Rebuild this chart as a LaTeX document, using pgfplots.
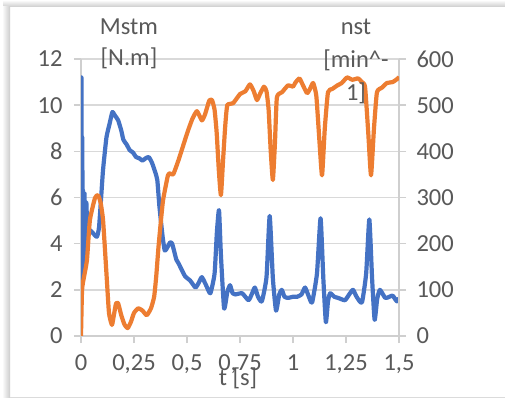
\documentclass[border=0pt]{standalone}
\usepackage{fontspec}
\setmainfont{Carlito}
\usepackage{pgfplots}
\pgfplotsset{compat=1.18}

\definecolor{serblue}{HTML}{4472C4}
\definecolor{serorange}{HTML}{ED7D31}
\definecolor{txtgray}{HTML}{595959}
\definecolor{gridgray}{HTML}{D9D9D9}
\definecolor{axgray}{HTML}{CFCFCF}

\pgfplotsset{
  xlstyle/.style={
    scale only axis, width=318bp, height=277bp,
    at={(81bp,64bp)}, anchor=south west,
    xmin=0, xmax=1.5,
    /pgf/number format/assume math mode=true,
    tick label style={font=\fontsize{24.5bp}{28bp}\selectfont, text=txtgray},
    axis line style={axgray, line width=1.5bp},
    major tick style={axgray, line width=1.5bp},
    major tick length=7bp, tick align=outside,
    minor tick num=0,
  },
}

\begin{document}
\begin{tikzpicture}
\useasboundingbox (0,0) rectangle (505bp,400bp);
\fill[white] (0,0) rectangle (505bp,400bp);
\shade[top color=white, bottom color=black!20] (3bp,393bp) rectangle (505bp,400bp);
\shade[left color=white, right color=black!20] (2bp,2bp) rectangle (10bp,393bp);
\draw[black!14, line width=1.5bp] (10bp,2.5bp) -- (505bp,2.5bp);

\begin{axis}[xlstyle,
  axis x line*=bottom, axis y line*=left,
  ymin=0, ymax=12, ytick={0,2,...,12},
  xtick={0,0.25,0.5,0.75,1,1.25,1.5},
  xticklabels={0,{0,25},{0,5},{0,75},1,{1,25},{1,5}},
  ymajorgrids, grid style={gridgray, line width=1.5bp},
  yticklabel style={xshift=-8bp},
  xticklabel style={yshift=-8bp},
]
\addplot[serblue, line width=4.2bp, line join=round, smooth, tension=0.3, no marks] coordinates {
(0,2.0) (0.002,11.2) (0.004,2.5) (0.006,8.6) (0.008,3.0) (0.010,6.3)
(0.013,3.3) (0.016,6.2) (0.02,4.0) (0.025,5.8) (0.03,4.5) (0.04,4.6)
(0.057,4.45) (0.075,4.3) (0.085,4.7) (0.095,6.0) (0.104,7.2) (0.12,8.6)
(0.135,9.2) (0.148,9.7) (0.16,9.55) (0.175,9.35) (0.19,8.9) (0.2,8.5)
(0.215,8.3) (0.23,8.05) (0.245,7.95) (0.26,7.75) (0.275,7.7) (0.29,7.6)
(0.305,7.7) (0.32,7.75) (0.335,7.5) (0.35,7.1) (0.36,6.75) (0.37,5.6)
(0.385,4.3) (0.395,3.7) (0.405,3.8) (0.42,4.05) (0.43,4.0) (0.45,3.3)
(0.46,3.15) (0.49,2.6) (0.515,2.4) (0.54,2.1) (0.555,2.3) (0.57,2.55)
(0.59,2.2) (0.61,1.85) (0.63,2.7) (0.641,4.5) (0.651,5.45) (0.66,3.5)
(0.675,1.2) (0.69,1.9) (0.703,2.2) (0.715,1.85) (0.727,1.8) (0.76,1.85)
(0.79,1.55) (0.805,1.8) (0.82,2.1) (0.835,1.7) (0.853,1.5) (0.875,2.55)
(0.89,5.2) (0.905,2.5) (0.92,1.1) (0.935,1.8) (0.947,2.0) (0.96,1.7)
(0.977,1.65) (1.0,1.7) (1.02,1.7) (1.04,1.8) (1.057,2.1) (1.075,1.7)
(1.09,1.45) (1.113,2.7) (1.13,5.1) (1.143,2.5) (1.155,0.6) (1.165,1.5)
(1.175,1.85) (1.195,1.7) (1.213,1.65) (1.245,1.55) (1.265,1.8) (1.283,2.0)
(1.3,1.7) (1.325,1.45) (1.345,2.7) (1.36,5.05) (1.373,2.5) (1.385,0.7)
(1.397,1.6) (1.41,2.0) (1.435,1.65) (1.455,1.7) (1.47,1.75) (1.49,1.5)
(1.5,1.65)
};
\end{axis}

\begin{axis}[xlstyle,
  axis x line=none, axis y line*=right,
  ymin=0, ymax=600, ytick={0,100,...,600},
  yticklabel style={xshift=7bp},
]
\addplot[serorange, line width=4.2bp, line join=round, smooth, tension=0.3, no marks] coordinates {
(0,0) (0.005,100) (0.015,130) (0.028,164) (0.042,251) (0.066,299)
(0.08,305) (0.092,290) (0.104,251) (0.12,136) (0.132,50) (0.146,24)
(0.155,45) (0.165,70) (0.175,71) (0.19,45) (0.205,25) (0.22,17)
(0.235,30) (0.25,50) (0.27,60) (0.29,55) (0.31,45) (0.33,60)
(0.345,85) (0.355,130) (0.365,190) (0.375,240) (0.387,294) (0.41,348)
(0.42,352) (0.435,350) (0.46,381) (0.49,424) (0.505,445) (0.525,470)
(0.547,487) (0.57,467) (0.585,480) (0.605,510) (0.618,511) (0.63,490)
(0.64,440) (0.65,360) (0.66,305) (0.67,380) (0.68,453) (0.69,500)
(0.717,504) (0.75,524) (0.775,530) (0.797,545) (0.815,530) (0.83,511)
(0.845,525) (0.863,540) (0.875,530) (0.885,490) (0.895,400) (0.905,338)
(0.915,420) (0.924,517) (0.948,528) (0.977,543) (1.0,540) (1.01,548)
(1.03,558) (1.045,545) (1.066,526) (1.08,535) (1.095,548) (1.11,520)
(1.125,420) (1.137,348) (1.15,450) (1.165,528) (1.185,535) (1.21,543)
(1.23,548) (1.255,560) (1.28,555) (1.307,558) (1.325,550) (1.34,539)
(1.355,440) (1.368,348) (1.382,450) (1.396,528) (1.42,538) (1.443,548)
(1.47,550) (1.495,558) (1.5,562)
};
\end{axis}

\begin{scope}[every node/.style={font=\fontsize{24.5bp}{28bp}\selectfont, text=txtgray, anchor=base, inner sep=0pt}]
\node at (129bp,365bp) {Mstm};
\node at (129bp,334bp) {[N.m]};
\node at (356bp,365bp) {nst};
\node at (356bp,332bp) {[min\textasciicircum-};
\node at (356bp,299bp) {1]};
\node at (238bp,15bp) {t [s]};
\end{scope}
\end{tikzpicture}
\end{document}
